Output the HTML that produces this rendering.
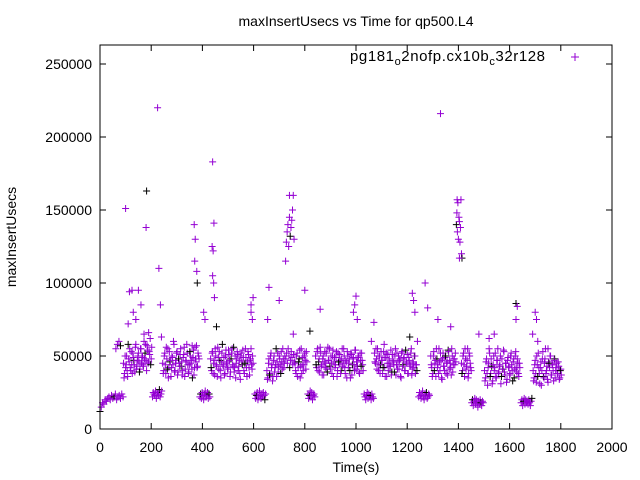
<!DOCTYPE html>
<html><head><meta charset="utf-8"><style>
html,body{margin:0;padding:0;background:#fff}
svg{display:block;font-family:"Liberation Sans",sans-serif}
</style></head><body>
<svg id="chart" width="640" height="480" viewBox="0 0 640 480" xmlns="http://www.w3.org/2000/svg">
<text x="356" y="26" font-size="14" text-anchor="middle">maxInsertUsecs vs Time for qp500.L4</text>
<g id="grid"></g>
<g id="marks"></g>
<rect x="100" y="45" width="512" height="384" fill="none" stroke="#000" stroke-width="1"/>
<text x="356" y="472" font-size="14" text-anchor="middle">Time(s)</text>
<text transform="translate(16,237) rotate(-90)" font-size="14" text-anchor="middle">maxInsertUsecs</text>
<g>
<text x="350" y="61" font-size="15" textLength="195" lengthAdjust="spacing">pg181<tspan font-size="11" dy="4">o</tspan><tspan dy="-4">2nofp.cx10b</tspan><tspan font-size="11" dy="4">c</tspan><tspan dy="-4">32r128</tspan></text>
<path d="M571 57h8M575 53v8" stroke="#9400d3" stroke-width="1"/>
</g>
</svg>
<script>
const xTicks=[0,200,400,600,800,1000,1200,1400,1600,1800,2000];
const yTicks=[0,50000,100000,150000,200000,250000];
const segStart=[0,62,92,94,205,245,247,390,432,434,605,652,654,725,726,762,764,812,842,844,1032,1072,1074,1245,1292,1294,1392,1412,1414,1452,1502,1504,1645,1692,1694];
const segStep=[5,6,4,4,3,4,4,3,4,4,3,4,4,3,3,4,4,3,4,4,3,4,4,3,4,4,2,4,4,3,4,4,3,4,4];
const segValues=[
[12,15,18,17,20,19,21,22,20,23,21,22,24,20,22,23,21,24,22],
[55,58,60,57],
[45,38,42,50,36,48,55,40,44,52,47,39,58,43,50,46,41,55,49,44,60,52,47,57,45,53,62,48],
[35,50,44,40,58,46,42,53,38,49,44,56,41,47,52,39,55,45,50,43,48,58,40,54,46,51,44,56],
[22,25,24,23,26,21,24,25,23,27,22,24,26],
[45,40,52,38,48,55,42,46,36,50,44,58,40,47,53,39,45,51,43,37,49,56,41,46,52,38,44,50,47,35,54,42,48,57,43,50],
[38,50,44,56,41,35,53,47,42,49,60,39,45,52,37,48,43,55,46,40,51,36,47,58,44,39,53,45,41,49,37,56,46,42,52,48],
[22,24,21,25,23,20,24,26,22,23,25,21,24,22],
[48,40,53,45,37,50,43,56,41,47,35,52,44,49,38,54,46,42,51,36,48,55,43,39,50,45,53,40,47,34,52,44,49,38,55,42,46,51,37,48,44,50],
[42,52,38,47,55,44,36,49,53,40,46,58,43,37,50,45,41,54,47,39,52,44,56,42,35,48,51,43,38,50,46,54,40,45,49,36,53,42,47,55,41,45],
[24,21,23,25,20,22,26,23,21,24,22,25,23,20,24],
[40,35,48,38,52,44,36,50,42,55,46,39,50,44,53,41,48,45],
[34,45,37,50,42,33,47,39,44,36,52,43,48,38,46,55,42,50],
[115,128,135,140,125,145,132,138,143,150,160,130],
[48,52,45,55,50,42,47,53,49,44,51,46],
[45,38,52,42,48,35,55,44,40,50,47,53],
[40,50,36,46,54,43,38,49,44,52,41,46],
[24,21,23,26,22,25,20,23,24,22],
[50,42,55,46,39,52,44,48,37,53,45,41,56,47,43,50,38,54,46,42,49,36,52,44,47,40,55,45,50,38,46,53,42,48,35,51,44,49,40,54,46,43,50,38,47,52,44],
[44,53,40,48,56,43,37,50,46,42,52,39,47,55,41,45,50,36,49,44,53,40,46,51,38,48,43,55,42,47,35,50,45,40,52,37,48,44,54,41,46,49,39,52,43,47,40],
[24,22,20,23,25,21,24,22,23,20,24,22,21],
[52,45,48,55,40,50,44,47,38,53,42,49,36,51,45,43,54,39,47,44,50,37,52,46,41,48,35,53,44,49,40,46,51,38,47,43,55,41,45,50,38,44],
[46,55,41,50,44,38,53,47,42,49,36,52,45,40,48,43,37,51,46,39,55,44,41,50,47,36,52,43,48,40,54,45,38,49,44,52,37,46,42,50,44,40],
[22,25,23,21,24,26,22,20,24,23,25,21,22,24,23],
[50,42,38,53,45,36,48,44,55,40,47,34,52,43,49,38,46,54,41,45,37,50,44,48,52],
[44,36,50,40,47,55,42,38,46,52,35,48,43,40,50,45,37,53,47,42,55,39,48,44,46],
[140,148,135,155,130,145,142,128,138,157,120,117],
[45,40,52,36,48,43,55,38,50,42],
[38,50,44,55,41,47,35,52,45,40],
[18,20,16,19,21,17,20,18,15,19,17,20,18,16,19,18],
[40,35,48,30,45,52,38,43,33,50,42,36,47,55,39,44,31,48,41,53,37,45,34,49,43,38,52,40,46,35,50,42,48,38,45],
[33,46,38,42,55,36,48,31,44,40,52,35,47,38,43,50,36,41,54,39,45,32,47,42,37,50,44,33,48,41,53,39,45,36,42],
[18,20,16,19,21,17,20,18,19,17,20,18,16,19,21],
[40,35,47,32,44,52,38,42,30,48,36,45,55,40,34,46,42,50,37,44,33,48,40,45,38,43,35,41],
[33,44,38,50,36,42,31,46,40,53,35,48,38,43,32,45,50,37,44,40,47,35,42,38,46,34,40,37]
];
const outT=[100,115,125,130,140,150,160,172,180,182,190,110,225,230,236,240,368,372,370,378,380,360,405,410,440,445,438,442,440,444,447,455,590,590,595,598,660,655,700,740,755,800,820,860,990,1000,995,1005,1070,1060,1220,1225,1230,1210,1270,1280,1330,1320,1370,1395,1404,1480,1520,1540,1625,1630,1625,1700,1705,1690,1710,1750,1240,1110];
const outV=[151,94,95,80,75,95,85,65,138,163,66,72,220,110,85,63,140,130,115,108,100,57,80,75,183,141,125,122,105,100,90,70,85,80,75,90,97,75,88,160,65,95,67,82,80,91,85,75,73,60,93,88,80,63,100,83,216,75,70,157,117,65,62,65,86,84,75,80,75,65,60,55,60,58];

const X0=100,X1=612,Y0=429,Y1=64;
const xScale=t=>X0+t/2000*(X1-X0);
const yScale=v=>Y0-v/250000*(Y0-Y1);
const NS="http://www.w3.org/2000/svg";
const grid=document.getElementById('grid'),marks=document.getElementById('marks');
function mk(tag,attrs,parent){const e=document.createElementNS(NS,tag);for(const k in attrs)e.setAttribute(k,attrs[k]);parent.appendChild(e);return e;}
xTicks.forEach(t=>{const x=xScale(t);
 const p=mk('path',{d:`M${x} 429v-6M${x} 45v6`,stroke:'#000','stroke-width':1},grid);
 
 
 const l=mk('text',{x:x,y:452,'font-size':14,'text-anchor':'middle'},grid);l.textContent=t;
 
 
});
yTicks.forEach(v=>{const y=yScale(v);
 const p=mk('path',{d:`M100 ${y}h6M612 ${y}h-6`,stroke:'#000','stroke-width':1},grid);
 
 
 const l=mk('text',{x:92,y:y+5,'font-size':14,'text-anchor':'end'},grid);l.textContent=v;
 
 
});
let n=0;
function plus(t,v){const x=xScale(t),y=yScale(v);
 const p=mk('path',{d:`M${x-3.5} ${y}h7M${x} ${y-3.5}v7`,stroke:(n%11===0?'#000':'#9400d3'),'stroke-width':1},marks);
 
 
 n++;
}
segValues.forEach((vals,s)=>vals.forEach((v,i)=>plus(segStart[s]+i*segStep[s],v*1000)));
outT.forEach((t,i)=>plus(t,outV[i]*1000));
</script>
</body></html>
